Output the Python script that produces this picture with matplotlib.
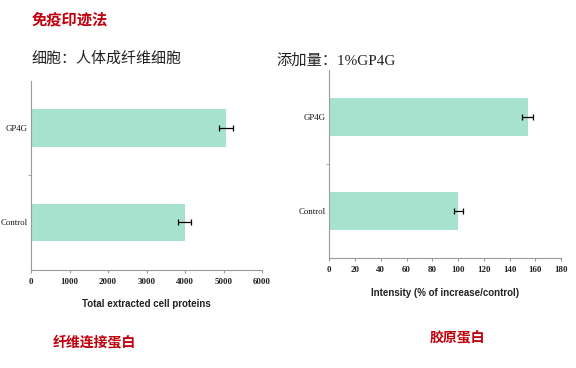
import matplotlib as mpl
from matplotlib import pyplot as plt
from matplotlib.ticker import FixedLocator

# ------------------------------------------------------------
# Data
# ------------------------------------------------------------
groups = ["Control", "GP4G"]

protein_total = [3990, 5065]
protein_err = [175, 175]
protein_ticks = [0, 1000, 2000, 3000, 4000, 5000, 6000]

intensity = [100, 154]
intensity_err = [3.5, 4]
intensity_ticks = [0, 20, 40, 60, 80, 100, 120, 140, 160, 180]

# ------------------------------------------------------------
# Style
# ------------------------------------------------------------
mpl.rcParams.update({
    "font.family": ["Noto Sans CJK SC", "DejaVu Sans"],
    "figure.facecolor": "white",
})

BAR_COLOR = "#A6E2CE"
AXIS_COLOR = "#9A9A9A"
RED = "#C0000C"
SERIF = ["Liberation Serif", "DejaVu Serif"]

W, H = 576, 368
fig = plt.figure(figsize=(W / 100, H / 100), dpi=100)


def px_axes(x0, y0, x1, y1):
    """Axes from pixel box (top-left origin)."""
    return fig.add_axes([x0 / W, 1 - y1 / H, (x1 - x0) / W, (y1 - y0) / H])


def style_axes(ax, xticks, xlabel, label_pad):
    ax.set_ylim(-0.5, 1.5)
    ax.set_xlim(xticks[0], xticks[-1])
    ax.set_xticks(xticks)
    ax.set_xticklabels([str(t) for t in xticks], family=SERIF,
                       fontsize=6.5, fontweight="bold", color="#222222")
    ax.set_yticks(range(len(groups)))
    ax.set_yticklabels(groups, family=SERIF, fontsize=6.3,
                       color="#111111")
    ax.yaxis.set_minor_locator(FixedLocator([0.5]))
    ax.tick_params(axis="y", which="major", length=0, pad=2.5)
    ax.tick_params(axis="y", which="minor", length=2, color=AXIS_COLOR)
    ax.tick_params(axis="x", length=2, color=AXIS_COLOR, pad=4)
    for s in ("top", "right"):
        ax.spines[s].set_visible(False)
    for s in ("left", "bottom"):
        ax.spines[s].set_color(AXIS_COLOR)
        ax.spines[s].set_linewidth(0.8)
    ax.set_xlabel(xlabel, family=["Liberation Sans", "DejaVu Sans"],
                  fontsize=7, fontweight="bold", color="#222222",
                  labelpad=label_pad)


# left panel: total extracted cell proteins
ax1 = px_axes(31, 81, 262, 269.5)
ax1.barh(range(len(groups)), protein_total, height=0.4, color=BAR_COLOR,
         xerr=protein_err, error_kw=dict(ecolor="black", elinewidth=0.9,
                                         capsize=2.5, capthick=0.9))
style_axes(ax1, protein_ticks, "Total extracted cell proteins", 9.5)

# right panel: collagen intensity
ax2 = px_axes(329.3, 70, 561, 258)
ax2.barh(range(len(groups)), intensity, height=0.4, color=BAR_COLOR,
         xerr=intensity_err, error_kw=dict(ecolor="black", elinewidth=0.9,
                                           capsize=2.5, capthick=0.9))
style_axes(ax2, intensity_ticks, "Intensity (% of increase/control)", 10)

# ------------------------------------------------------------
# Slide text
# ------------------------------------------------------------
fig.text(32 / W, 1 - 19 / H, "免疫印迹法", fontsize=11, fontweight="bold",
         color=RED, va="center", ha="left")
fig.text(32 / W, 1 - 59 / H, "细胞：人体成纤维细胞", fontsize=10.8,
         color="#222222", va="center", ha="left")
fig.text(276 / W, 1 - 61 / H, "添加量：1%GP4G", fontsize=11,
         family=["Liberation Serif", "Noto Sans CJK SC"],
         color="#222222", va="center", ha="left")
fig.text(53 / W, 1 - 343 / H, "纤维连接蛋白", fontsize=10, fontweight="bold",
         color=RED, va="center", ha="left")
fig.text(430 / W, 1 - 338 / H, "胶原蛋白", fontsize=10, fontweight="bold",
         color=RED, va="center", ha="left")

fig.savefig("out.png", dpi=100)
